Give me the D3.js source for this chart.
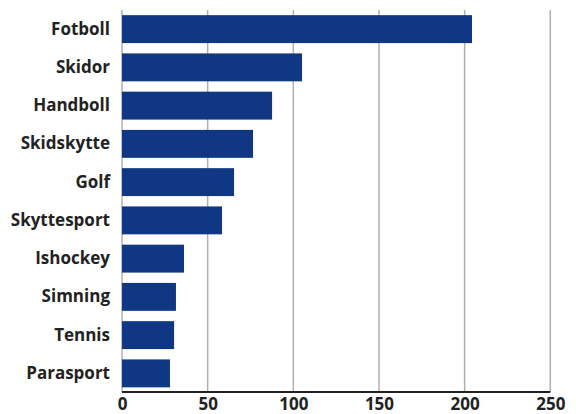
<!DOCTYPE html>
<html><head><meta charset="utf-8">
<script src="https://cdn.jsdelivr.net/npm/d3@7"></script>
<style>body{margin:0;background:#fff}svg{display:block}</style>
</head><body>
<script>
const categories = ["Fotboll","Skidor","Handboll","Skidskytte","Golf","Skyttesport","Ishockey","Simning","Tennis","Parasport"];
const values = [204.3,105.1,87.6,76.5,65.4,58.4,36.2,31.5,30.4,28.0];
const xTicks = [0,50,100,150,200,250];

const W=576,H=414;
const svg=d3.select("body").append("svg").attr("width",W).attr("height",H);
const x=d3.scaleLinear().domain([0,250]).range([122,550.3]);
const y=d3.scaleBand().domain(categories).range([10,392.5]).paddingInner(0.27).paddingOuter(0.135);
const font="'Open Sans', sans-serif";

// gridlines
svg.append("g").selectAll("line").data(xTicks).join("line")
  .attr("x1",d=>x(d)).attr("x2",d=>x(d)).attr("y1",10).attr("y2",392)
  .attr("stroke","#b0b0b0").attr("stroke-width",1.5);

// bars
svg.append("g").selectAll("rect").data(categories).join("rect")
  .attr("x",x(0)).attr("y",d=>y(d)).attr("height",y.bandwidth())
  .attr("width",(d,i)=>x(values[i])-x(0)).attr("fill","#103784");

// x axis
const xa=svg.append("g").attr("transform","translate(0,392)")
  .call(d3.axisBottom(x).tickValues(xTicks).tickSize(0).tickPadding(6));
xa.select(".domain").attr("stroke","#222").attr("stroke-width",2.2).attr("d",`M${x(0)},0H${x(250)}`);
xa.selectAll("text").attr("font-family",font).attr("font-weight","bold").attr("font-size",17).attr("fill","#222");

// y axis labels
const ya=svg.append("g").attr("transform",`translate(${x(0)},0)`)
  .call(d3.axisLeft(y).tickSize(0).tickPadding(12));
ya.select(".domain").remove();
ya.selectAll("text").attr("font-family",font).attr("font-weight","bold").attr("font-size",17).attr("fill","#222");
</script>
</body></html>
